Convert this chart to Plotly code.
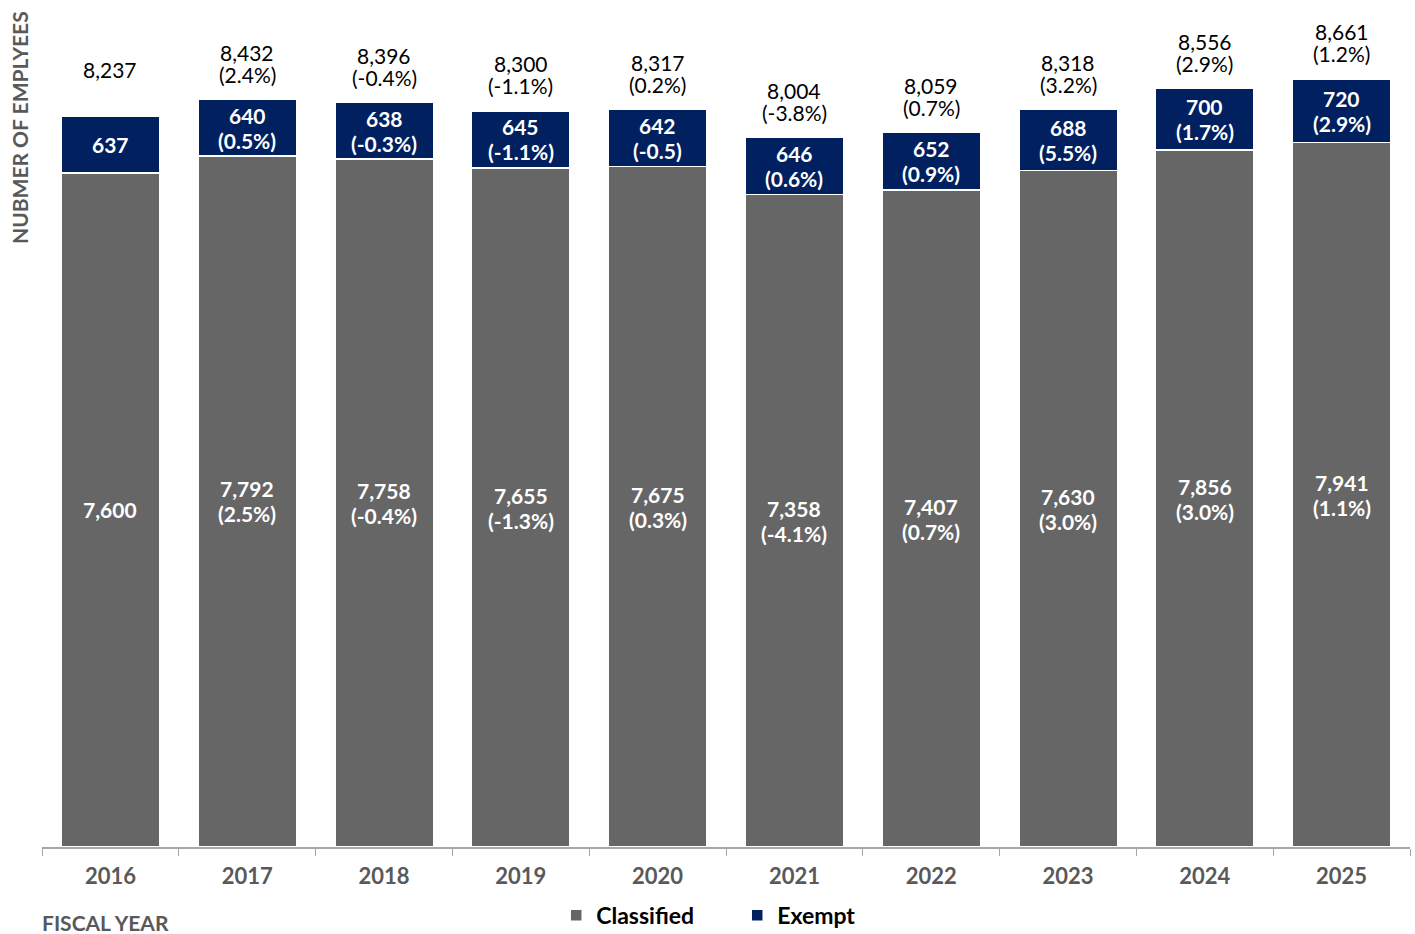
import plotly.graph_objects as go

years = ["2016", "2017", "2018", "2019", "2020", "2021", "2022", "2023", "2024", "2025"]
classified = [7600, 7792, 7758, 7655, 7675, 7358, 7407, 7630, 7856, 7941]
exempt = [637, 640, 638, 645, 642, 646, 652, 688, 700, 720]
classified_chg = ["", "(2.5%)", "(-0.4%)", "(-1.3%)", "(0.3%)", "(-4.1%)", "(0.7%)", "(3.0%)", "(3.0%)", "(1.1%)"]
exempt_chg = ["", "(0.5%)", "(-0.3%)", "(-1.1%)", "(-0.5)", "(0.6%)", "(0.9%)", "(5.5%)", "(1.7%)", "(2.9%)"]
total_chg = ["", "(2.4%)", "(-0.4%)", "(-1.1%)", "(0.2%)", "(-3.8%)", "(0.7%)", "(3.2%)", "(2.9%)", "(1.2%)"]

GREY = "#666666"
NAVY = "#002060"
AXIS_GREY = "#595959"
FONT = "Lato"

fig = go.Figure()
fig.add_trace(go.Bar(x=years, y=classified, name="Classified",
                     marker=dict(color=GREY, line=dict(color="white", width=1.5))))
fig.add_trace(go.Bar(x=years, y=exempt, name="Exempt",
                     marker=dict(color=NAVY, line=dict(color="white", width=1.5))))

annotations = []


def inside_label(xi, ymid, value, chg):
    """Two-line (or single-line) bold white label centred in a segment."""
    lines = [f"{value:,}"] + ([chg] if chg else [])
    n = len(lines)
    for i, t in enumerate(lines):
        shift = (n - 1) * 12.5 - i * 25
        annotations.append(dict(x=xi, y=ymid, xref="x", yref="y", text=t, showarrow=False,
                                yshift=shift, yanchor="middle",
                                font=dict(family=FONT, size=21, color="white", weight="bold")))


# annotations are positioned by category index along the x axis
for i in range(len(years)):
    c, e = classified[i], exempt[i]
    total = c + e
    inside_label(i, c / 2, c, classified_chg[i])
    inside_label(i, c + e / 2, e, exempt_chg[i])
    # total label above the stack
    annotations.append(dict(x=i, y=total, xref="x", yref="y", text=f"{total:,}", showarrow=False,
                            yshift=47, yanchor="middle",
                            font=dict(family=FONT, size=21, color="black")))
    if total_chg[i]:
        annotations.append(dict(x=i, y=total, xref="x", yref="y", text=total_chg[i], showarrow=False,
                                yshift=25, yanchor="middle",
                                font=dict(family=FONT, size=21, color="black")))

annotations.append(dict(x=-0.016, y=0.849, xref="paper", yref="paper", text="NUBMER OF EMPLYEES",
                        textangle=-90, showarrow=False, xanchor="center", yanchor="middle",
                        font=dict(family=FONT, size=21, color=AXIS_GREY, weight="bold")))
annotations.append(dict(x=-0.0015, y=-0.0895, xref="paper", yref="paper", text="FISCAL YEAR",
                        showarrow=False, xanchor="left", yanchor="middle",
                        font=dict(family=FONT, size=21, color=AXIS_GREY, weight="bold")))

fig.update_layout(
    barmode="stack",
    bargap=0.28,
    width=1415, height=934,
    margin=dict(l=42, r=5, t=0, b=87, autoexpand=False),
    plot_bgcolor="white", paper_bgcolor="white",
    font=dict(family=FONT),
    showlegend=True,
    legend=dict(orientation="h", x=0.521, xref="container", y=0.02, yref="container",
                xanchor="center", yanchor="middle",
                font=dict(family=FONT, size=23, color="black", weight="bold"),
                traceorder="normal", entrywidth=136, itemwidth=30),
    annotations=annotations,
    xaxis=dict(type="category", range=[-0.5, len(years) - 0.5], autorange=False,
               showline=True, linecolor="#a6a6a6", linewidth=1.5,
               ticks="outside", tickson="boundaries", ticklen=7, tickcolor="#a6a6a6",
               ticklabelstandoff=9,
               tickfont=dict(family=FONT, size=22, color=AXIS_GREY, weight="bold"),
               showgrid=False),
    yaxis=dict(range=[0, 9550], autorange=False, visible=False, showgrid=False),
)

fig.write_html("out.html")
